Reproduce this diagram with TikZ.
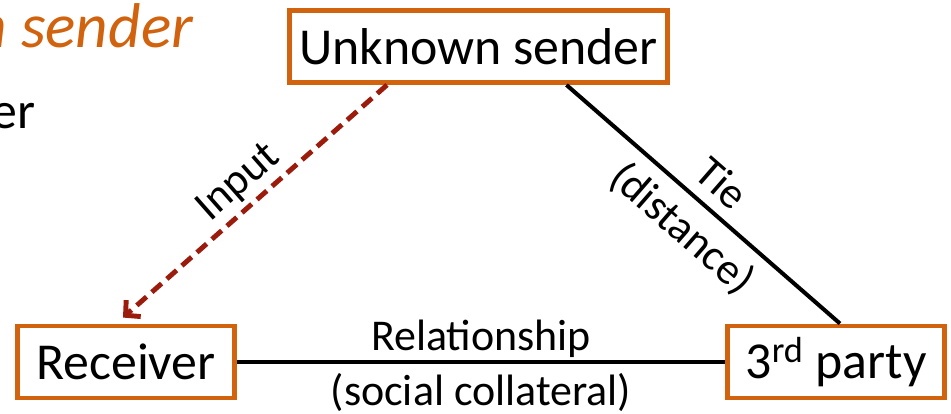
\documentclass[tikz,border=0pt]{standalone}
\usepackage{fontspec}
\setmainfont{Carlito}
\usetikzlibrary{calc,arrows.meta,shadows}

\definecolor{boxorange}{RGB}{209,98,14}
\definecolor{inputred}{RGB}{155,28,12}

\tikzset{
  actor/.style={draw=boxorange, line width=2.8pt, fill=white, inner sep=0pt,
    minimum height=1.44cm, font=\fontsize{29.5}{35}\selectfont,
    drop shadow={shadow xshift=1.2pt, shadow yshift=-1.2pt, opacity=0.3}},
  tie/.style={line width=2.3pt},
  input/.style={draw=inputred, line width=2.8pt, dash pattern=on 7.4pt off 4pt,
    -{Straight Barb[length=6pt,width=12.5pt]}},
  lbl/.style={font=\fontsize{25}{30}\selectfont, inner sep=1.5pt}
}

\begin{document}
\begin{tikzpicture}[x=0.02cm,y=-0.02cm]
\useasboundingbox (0,0) rectangle (951,413);

\node[anchor=base west, inner sep=0pt, text=boxorange, font=\fontsize{36}{40}\selectfont\itshape] (title) at (-26,47) {n sender};
\node[anchor=base west, inner sep=0pt, font=\fontsize{29.5}{35}\selectfont] (sub) at (-9,128) {er};

\node[actor, minimum width=7.56cm] (sender) at (478.5,46.5) {Unknown sender};
\node[actor, minimum width=4.34cm] (recv) at (126,362) {Receiver};
\node[actor, minimum width=4.34cm] (party) at (836,362) {3\textsuperscript{rd} party};

\coordinate (s1) at ([xshift=-1.83cm]sender.south);
\coordinate (r1) at ([xshift=-0.06cm,yshift=0.12cm]recv.north);
\coordinate (s2) at ([xshift=1.76cm]sender.south);
\coordinate (p1) at ([xshift=0.08cm]party.north);

\draw[input] (s1) -- (r1) node[lbl, midway, sloped, above=1pt] (inlbl) {Input};
\draw[tie] (s2) -- (p1) node[lbl, midway, sloped, above=5pt] (tielbl) {Tie}
  node[lbl, midway, sloped, below=5pt] (distlbl) {(distance)};
\draw[tie] (recv) -- (party) node[lbl, midway, above] (rellbl) {Relationship}
  node[lbl, midway, below=4pt] (collbl) {(social collateral)};

\end{tikzpicture}
\end{document}
